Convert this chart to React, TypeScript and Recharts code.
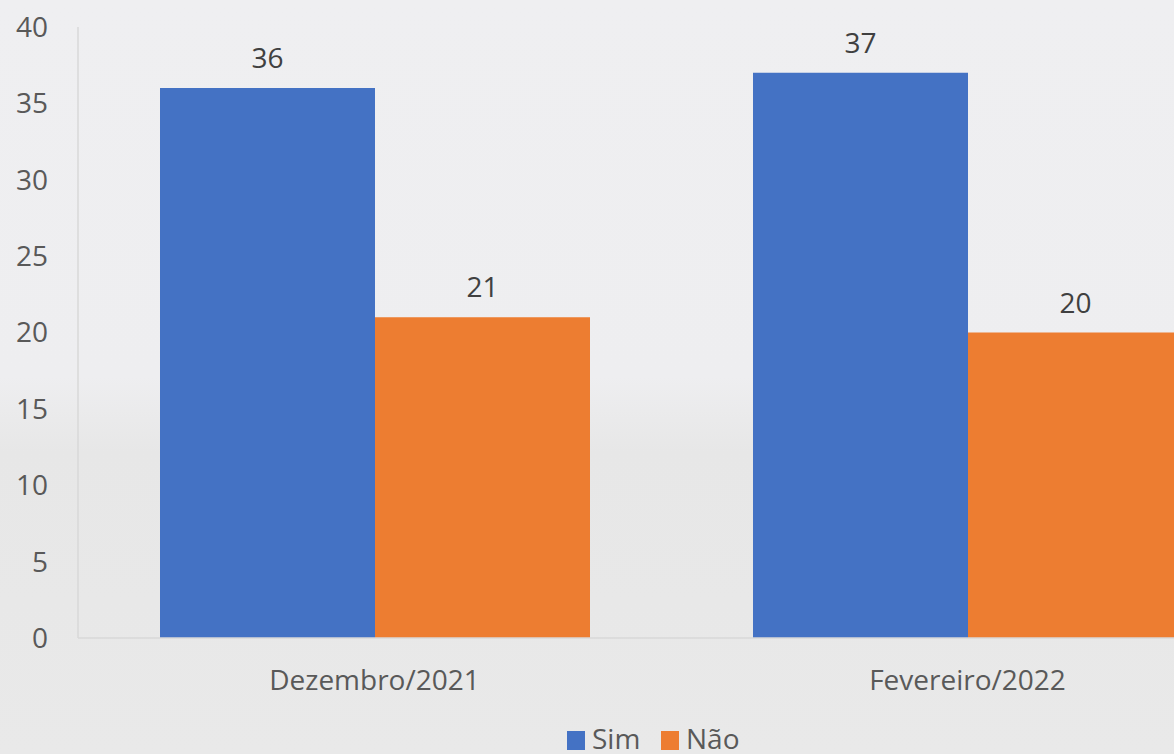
import React from "react";
import { BarChart, Bar, XAxis, YAxis, Legend, LabelList } from "recharts";

const categories = ["Dezembro/2021", "Fevereiro/2022"];
const simValues = [36, 37];
const naoValues = [21, 20];
const yTicks = [0, 5, 10, 15, 20, 25, 30, 35, 40];
const seriesNames = ["Sim", "Não"];
const seriesColors = ["#4472C4", "#ED7D31"];

const data = categories.map((c, i) => ({ name: c, Sim: simValues[i], Nao: naoValues[i] }));

const FONT = "'Open Sans', 'Noto Sans', sans-serif";

function LegendContent() {
  const starts = [567, 661];
  return (
    <svg width={1280} height={30} style={{ display: "block" }}>
      {seriesNames.map((n, i) => (
        <g key={n}>
          <rect x={starts[i]} y={7} width={18} height={19} fill={seriesColors[i]} />
          <text x={starts[i] + 25} y={25} fontSize={28} fontFamily={FONT} fill="#595959">
            {n}
          </text>
        </g>
      ))}
    </svg>
  );
}

export default function App() {
  return (
    <div
      style={{
        position: "absolute",
        left: 0,
        top: 0,
        width: 1174,
        height: 754,
        overflow: "hidden",
        background: "linear-gradient(#efeff1 0%, #eeeef0 50%, #e7e7e7 60%, #e9e9e9 100%)",
        fontFamily: FONT,
      }}
    >
      <BarChart
        width={1280}
        height={754}
        data={data}
        margin={{ top: 27, right: 16, left: 0, bottom: 16 }}
        barSize={215}
        barGap={0}
      >
        <XAxis
          dataKey="name"
          axisLine={{ stroke: "#d9d9d9", strokeWidth: 1.5 }}
          tickLine={false}
          tickSize={0}
          tickMargin={32}
          height={70}
          tick={{ fill: "#595959", fontSize: 28, fontFamily: FONT }}
        />
        <YAxis
          domain={[0, 40]}
          ticks={yTicks}
          width={78}
          axisLine={{ stroke: "#d9d9d9", strokeWidth: 1.5 }}
          tickLine={false}
          tickSize={0}
          tickMargin={30}
          tick={{ fill: "#595959", fontSize: 28, fontFamily: FONT }}
        />
        <Legend
          verticalAlign="bottom"
          content={() => <LegendContent />}
          wrapperStyle={{ top: 724, left: 0, width: 1280, height: 30 }}
        />
        <Bar dataKey="Sim" name="Sim" fill={seriesColors[0]} isAnimationActive={false}>
          <LabelList dataKey="Sim" position="top" offset={20} fill="#404040" fontSize={28} fontFamily={FONT} />
        </Bar>
        <Bar dataKey="Nao" name="Não" fill={seriesColors[1]} isAnimationActive={false}>
          <LabelList dataKey="Nao" position="top" offset={20} fill="#404040" fontSize={28} fontFamily={FONT} />
        </Bar>
      </BarChart>
    </div>
  );
}
